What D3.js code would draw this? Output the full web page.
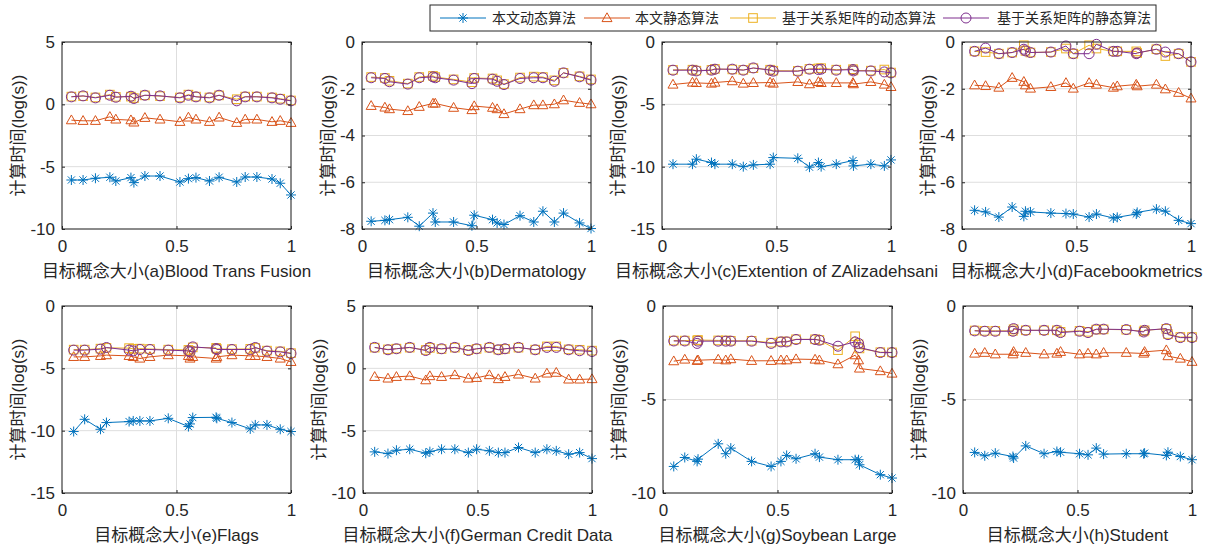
<!DOCTYPE html>
<html><head><meta charset="utf-8">
<script src="https://cdn.jsdelivr.net/npm/d3@7"></script>
<style>
body{margin:0;background:#fff}
svg{display:block}
text{font-family:"Liberation Sans",Arial,"Noto Sans CJK SC",sans-serif;fill:#262626}
</style>
</head><body>
<svg id="c" width="1215" height="550"></svg>
<script>
// ---------- DATA ----------
const seriesNames = ["本文动态算法","本文静态算法","基于关系矩阵的动态算法","基于关系矩阵的静态算法"];
const xTicks = [0, 0.5, 1];
const panelLabels = ["(a)Blood Trans Fusion","(b)Dermatology","(c)Extention of ZAlizadehsani","(d)Facebookmetrics",
                     "(e)Flags","(f)German Credit Data","(g)Soybean Large","(h)Student"];
const xPrefix = "目标概念大小";
const yTitle = "计算时间(log(s))";
const yDomains = [[-10,5],[-8,0],[-15,0],[-8,0],[-15,0],[-10,5],[-10,0],[-10,0]];
const yTickSets = [[-10,-5,0,5],[-8,-6,-4,-2,0],[-15,-10,-5,0],[-8,-6,-4,-2,0],[-15,-10,-5,0],[-10,-5,0,5],[-10,-5,0],[-10,-5,0]];

// (a) Blood Trans Fusion
const xA = [0.041,0.092,0.146,0.209,0.235,0.301,0.314,0.362,0.428,0.515,0.552,0.585,0.644,0.686,0.763,0.8,0.851,0.917,0.953,1.0];
const dynA = [-6.07,-6.07,-5.93,-5.85,-6.15,-5.88,-6.28,-5.75,-5.75,-6.23,-5.96,-5.88,-6.15,-5.85,-6.23,-5.83,-5.83,-5.99,-6.33,-7.27];
const staA = [-1.27,-1.32,-1.32,-1.0,-1.21,-1.27,-1.45,-1.08,-1.21,-1.4,-1.05,-1.21,-1.4,-1.05,-1.48,-1.21,-1.21,-1.4,-1.32,-1.48];
const rdynA = [0.62,0.66,0.55,0.78,0.6,0.62,0.5,0.72,0.66,0.55,0.78,0.62,0.55,0.72,0.41,0.62,0.62,0.55,0.45,0.31];
const rstaA = [0.6,0.68,0.52,0.73,0.57,0.65,0.47,0.73,0.68,0.52,0.73,0.6,0.52,0.73,0.28,0.6,0.6,0.52,0.41,0.28];
// (b) Dermatology
const xB = [0.04,0.10,0.12,0.20,0.25,0.31,0.32,0.40,0.48,0.49,0.57,0.59,0.62,0.69,0.75,0.79,0.84,0.88,0.95,1.0];
const dynB = [-7.67,-7.63,-7.6,-7.5,-7.88,-7.32,-7.7,-7.7,-7.86,-7.41,-7.6,-7.74,-7.81,-7.43,-7.7,-7.24,-7.7,-7.32,-7.74,-7.98];
const staB = [-2.73,-2.8,-2.87,-2.95,-2.77,-2.63,-2.63,-2.81,-2.91,-2.74,-2.81,-2.87,-3.08,-2.87,-2.7,-2.7,-2.66,-2.49,-2.6,-2.66];
const rdynB = [-1.5,-1.54,-1.66,-1.78,-1.5,-1.45,-1.5,-1.6,-1.72,-1.54,-1.56,-1.64,-1.8,-1.52,-1.48,-1.5,-1.64,-1.32,-1.47,-1.6];
const rstaB = [-1.53,-1.56,-1.7,-1.8,-1.53,-1.49,-1.53,-1.63,-1.78,-1.56,-1.59,-1.68,-1.82,-1.56,-1.53,-1.53,-1.68,-1.32,-1.49,-1.63];
// (c) Extention of ZAlizadehsani
const xC = [0.048,0.133,0.150,0.216,0.231,0.307,0.355,0.399,0.472,0.486,0.593,0.644,0.683,0.695,0.761,0.834,0.836,0.912,0.971,1.0];
const dynC = [-9.8,-9.8,-9.4,-9.67,-9.8,-9.8,-10.0,-9.86,-9.8,-9.27,-9.33,-10.04,-9.67,-10.0,-9.8,-9.51,-9.94,-9.8,-9.94,-9.46];
const staC = [-3.41,-3.25,-3.28,-3.33,-3.25,-3.14,-3.33,-3.28,-3.25,-3.33,-3.2,-3.38,-3.2,-3.28,-3.28,-3.28,-3.38,-3.2,-3.41,-3.6];
const rdynC = [-2.24,-2.22,-2.3,-2.24,-2.16,-2.2,-2.24,-2.1,-2.22,-2.3,-2.32,-2.16,-2.12,-2.1,-2.22,-2.18,-2.28,-2.3,-2.21,-2.45];
const rstaC = [-2.26,-2.26,-2.32,-2.26,-2.18,-2.18,-2.26,-2.08,-2.26,-2.34,-2.34,-2.18,-2.21,-2.18,-2.26,-2.21,-2.32,-2.32,-2.4,-2.48];
// (d) Facebookmetrics
const xD = [0.055,0.103,0.161,0.219,0.27,0.277,0.299,0.388,0.454,0.486,0.555,0.587,0.661,0.678,0.761,0.765,0.849,0.888,0.946,1.0];
const dynD = [-7.2,-7.27,-7.49,-7.06,-7.46,-7.24,-7.27,-7.32,-7.34,-7.36,-7.49,-7.36,-7.53,-7.5,-7.36,-7.29,-7.15,-7.24,-7.63,-7.77];
const staD = [-1.85,-1.88,-1.95,-1.53,-1.7,-1.85,-1.99,-1.92,-1.75,-1.99,-1.75,-1.82,-1.95,-1.89,-1.82,-1.89,-1.82,-2.02,-2.17,-2.41];
const rdynD = [-0.4,-0.43,-0.5,-0.45,-0.14,-0.38,-0.45,-0.43,-0.28,-0.5,-0.14,-0.28,-0.4,-0.4,-0.4,-0.47,-0.31,-0.6,-0.5,-0.85];
const rstaD = [-0.4,-0.26,-0.5,-0.45,-0.31,-0.38,-0.45,-0.43,-0.17,-0.5,-0.5,-0.1,-0.4,-0.4,-0.5,-0.47,-0.31,-0.43,-0.5,-0.85];
// (e) Flags
const xE = [0.051,0.099,0.168,0.194,0.293,0.311,0.34,0.384,0.464,0.552,0.559,0.571,0.673,0.676,0.742,0.822,0.844,0.895,0.953,1.0];
const dynE = [-10.07,-9.09,-9.89,-9.35,-9.27,-9.22,-9.22,-9.22,-9.01,-9.67,-9.46,-8.95,-8.93,-9.01,-9.35,-9.86,-9.54,-9.54,-9.89,-10.07];
const staE = [-4.08,-4.08,-4.0,-3.94,-4.0,-4.08,-4.21,-4.08,-3.94,-4.0,-4.21,-4.08,-4.21,-4.08,-3.94,-4.0,-4.0,-4.08,-4.21,-4.48];
const rdynE = [-3.5,-3.5,-3.42,-3.36,-3.38,-3.44,-3.42,-3.45,-3.5,-3.52,-3.6,-3.32,-3.36,-3.44,-3.46,-3.44,-3.36,-3.58,-3.64,-3.78];
const rstaE = [-3.54,-3.54,-3.46,-3.33,-3.54,-3.6,-3.49,-3.49,-3.54,-3.6,-3.68,-3.28,-3.41,-3.49,-3.49,-3.49,-3.33,-3.62,-3.68,-3.81];
// (f) German Credit Data
const xF = [0.051,0.109,0.146,0.204,0.274,0.292,0.343,0.401,0.46,0.496,0.552,0.591,0.62,0.679,0.752,0.803,0.844,0.898,0.946,1.0];
const dynF = [-6.7,-6.84,-6.57,-6.49,-6.81,-6.68,-6.49,-6.49,-6.76,-6.49,-6.62,-6.76,-6.76,-6.35,-6.76,-6.49,-6.62,-6.89,-6.76,-7.24];
const staF = [-0.68,-0.81,-0.68,-0.62,-0.95,-0.62,-0.68,-0.54,-0.81,-0.76,-0.54,-0.86,-0.68,-0.49,-0.81,-0.41,-0.35,-0.89,-0.89,-0.86];
const rdynF = [1.66,1.52,1.58,1.66,1.47,1.64,1.55,1.66,1.46,1.56,1.66,1.5,1.56,1.66,1.5,1.76,1.76,1.52,1.49,1.42];
const rstaF = [1.68,1.49,1.57,1.68,1.43,1.68,1.57,1.68,1.43,1.57,1.68,1.49,1.57,1.68,1.49,1.68,1.68,1.49,1.41,1.35];
// (g) Soybean Large
const xG = [0.047,0.095,0.149,0.153,0.241,0.274,0.296,0.387,0.472,0.515,0.54,0.581,0.664,0.683,0.764,0.839,0.854,0.858,0.949,1.0];
const dynG = [-8.58,-8.1,-8.31,-8.19,-7.37,-7.9,-7.6,-8.31,-8.58,-8.31,-7.99,-8.17,-7.9,-8.08,-8.22,-8.22,-8.22,-8.49,-9.02,-9.2];
const staG = [-2.95,-2.86,-2.93,-2.9,-2.86,-2.9,-2.84,-2.93,-2.93,-2.9,-2.9,-2.84,-2.86,-2.9,-3.11,-2.63,-2.9,-3.34,-3.48,-3.61];
const rdynG = [-1.85,-1.85,-1.84,-1.82,-1.84,-1.84,-1.86,-1.86,-1.96,-1.9,-1.9,-1.78,-1.78,-1.82,-2.36,-1.62,-2.05,-2.27,-2.47,-2.48];
const rstaG = [-1.87,-1.87,-2.0,-1.88,-1.88,-1.88,-1.88,-1.88,-2.0,-1.92,-1.92,-1.79,-1.79,-1.83,-2.15,-1.92,-2.0,-2.22,-2.49,-2.49];
// (h) Student
const xH = [0.051,0.095,0.141,0.218,0.221,0.274,0.354,0.41,0.426,0.509,0.546,0.582,0.614,0.713,0.789,0.793,0.888,0.895,0.949,1.0];
const dynH = [-7.83,-8.01,-7.87,-8.05,-8.13,-7.48,-7.9,-7.78,-7.82,-7.9,-7.96,-7.6,-7.92,-7.9,-7.9,-7.87,-7.99,-7.82,-8.05,-8.22];
const staH = [-2.54,-2.5,-2.58,-2.58,-2.45,-2.5,-2.58,-2.54,-2.45,-2.58,-2.54,-2.58,-2.5,-2.5,-2.54,-2.45,-2.36,-2.68,-2.81,-2.98];
const rdynH = [-1.31,-1.33,-1.33,-1.33,-1.24,-1.3,-1.3,-1.3,-1.38,-1.33,-1.38,-1.26,-1.25,-1.27,-1.36,-1.3,-1.22,-1.5,-1.66,-1.66];
const rstaH = [-1.33,-1.35,-1.35,-1.35,-1.21,-1.3,-1.3,-1.3,-1.42,-1.35,-1.42,-1.24,-1.24,-1.26,-1.39,-1.3,-1.21,-1.53,-1.69,-1.69];

const panelX = [xA,xB,xC,xD,xE,xF,xG,xH];
const panelSeries = [
  [dynA,staA,rdynA,rstaA],[dynB,staB,rdynB,rstaB],[dynC,staC,rdynC,rstaC],[dynD,staD,rdynD,rstaD],
  [dynE,staE,rdynE,rstaE],[dynF,staF,rdynF,rstaF],[dynG,staG,rdynG,rstaG],[dynH,staH,rdynH,rstaH]
];

// ---------- LAYOUT / STYLE ----------
const colors = ['#0072BD','#D95319','#EDB120','#7E2F8E'];
const W = 229, H = 187;
const origins = [[62,42],[362,42],[662,42],[962,42],[62,306],[363,306],[663,306],[963,306]];
const tickFont = 17, labelFont = 17;

const svg = d3.select('#c');

function marker(sel, type, color){
  if(type===0){
    sel.append('path').attr('d','M-5,0L5,0M0,-5L0,5M-3.6,-3.6L3.6,3.6M-3.6,3.6L3.6,-3.6');
  } else if(type===1){
    sel.append('path').attr('d','M0,-5.2L5,3.6L-5,3.6Z');
  } else if(type===2){
    sel.append('rect').attr('x',-4.3).attr('y',-4.3).attr('width',8.6).attr('height',8.6);
  } else {
    sel.append('circle').attr('r',5);
  }
  sel.selectAll('*').attr('fill','none').attr('stroke',color).attr('stroke-width',1);
}

panelX.forEach((xs, i) => {
  const [L,T] = origins[i];
  const g = svg.append('g').attr('transform',`translate(${L},${T})`);
  const x = d3.scaleLinear().domain([0,1]).range([0,W]);
  const y = d3.scaleLinear().domain(yDomains[i]).range([H,0]);

  // background
  g.append('rect').attr('width',W).attr('height',H).attr('fill','#fff');
  // grid
  g.append('g').selectAll('line').data(xTicks).join('line')
    .attr('x1',d=>x(d)).attr('x2',d=>x(d)).attr('y1',0).attr('y2',H)
    .attr('stroke','#dedede').attr('stroke-width',1);
  g.append('g').selectAll('line').data(yTickSets[i]).join('line')
    .attr('y1',d=>y(d)).attr('y2',d=>y(d)).attr('x1',0).attr('x2',W)
    .attr('stroke','#dedede').attr('stroke-width',1);

  // series
  const line = d3.line().x(d=>x(d[0])).y(d=>y(d[1]));
  panelSeries[i].forEach((vals, s) => {
    const pts = xs.map((xv,k)=>[xv, vals[k]]);
    g.append('path').datum(pts).attr('d',line)
      .attr('fill','none').attr('stroke',colors[s]).attr('stroke-width',1);
    g.append('g').selectAll('g').data(pts).join('g')
      .attr('transform',d=>`translate(${x(d[0])},${y(d[1])})`)
      .each(function(){ marker(d3.select(this), s, colors[s]); });
  });

  // axes
  const fmt = d => String(d);
  const ax = g.append('g').attr('transform',`translate(0,${H})`)
    .call(d3.axisBottom(x).tickValues(xTicks).tickSize(-3).tickPadding(11).tickFormat(fmt));
  const ay = g.append('g')
    .call(d3.axisLeft(y).tickValues(yTickSets[i]).tickSize(-3).tickPadding(7).tickFormat(fmt));
  g.append('g').call(d3.axisTop(x).tickValues(xTicks).tickSize(-3).tickFormat(''));
  g.append('g').attr('transform',`translate(${W},0)`)
    .call(d3.axisRight(y).tickValues(yTickSets[i]).tickSize(-3).tickFormat(''));
  g.selectAll('.domain').remove();
  g.selectAll('.tick line').attr('stroke','#262626');
  g.selectAll('.tick text').attr('font-size',tickFont).attr('fill','#262626')
    .attr('font-family','"Liberation Sans",Arial,sans-serif');

  // box
  g.append('rect').attr('width',W).attr('height',H).attr('fill','none')
    .attr('stroke','#262626').attr('stroke-width',1);

  // x label
  g.append('text').attr('x',W/2).attr('y',H+48).attr('text-anchor','middle')
    .attr('font-size',labelFont).text(xPrefix + panelLabels[i]);

  // y label
  const bb = ay.node().getBBox();
  const lx = bb.x - 6;
  g.append('text').attr('transform',`translate(${lx},${H/2}) rotate(-90)`)
    .attr('text-anchor','middle').attr('font-size',labelFont).text(yTitle);
});

// ---------- LEGEND ----------
const leg = svg.append('g');
leg.append('rect').attr('x',430).attr('y',5).attr('width',726).attr('height',26)
  .attr('fill','#fff').attr('stroke','#262626').attr('stroke-width',1);
const legItems = [
  {x0:440, tx:492},
  {x0:584, tx:635},
  {x0:730, tx:782},
  {x0:943, tx:997}
];
legItems.forEach((it, s) => {
  const yc = 18;
  leg.append('line').attr('x1',it.x0).attr('x2',it.x0+46).attr('y1',yc).attr('y2',yc)
    .attr('stroke',colors[s]).attr('stroke-width',1);
  const m = leg.append('g').attr('transform',`translate(${it.x0+23},${yc})`);
  marker(m, s, colors[s]);
  leg.append('text').attr('x',it.tx).attr('y',yc+5).attr('font-size',14)
    .attr('font-family','"Noto Sans CJK SC",sans-serif').text(seriesNames[s]);
});
</script>
</body></html>
